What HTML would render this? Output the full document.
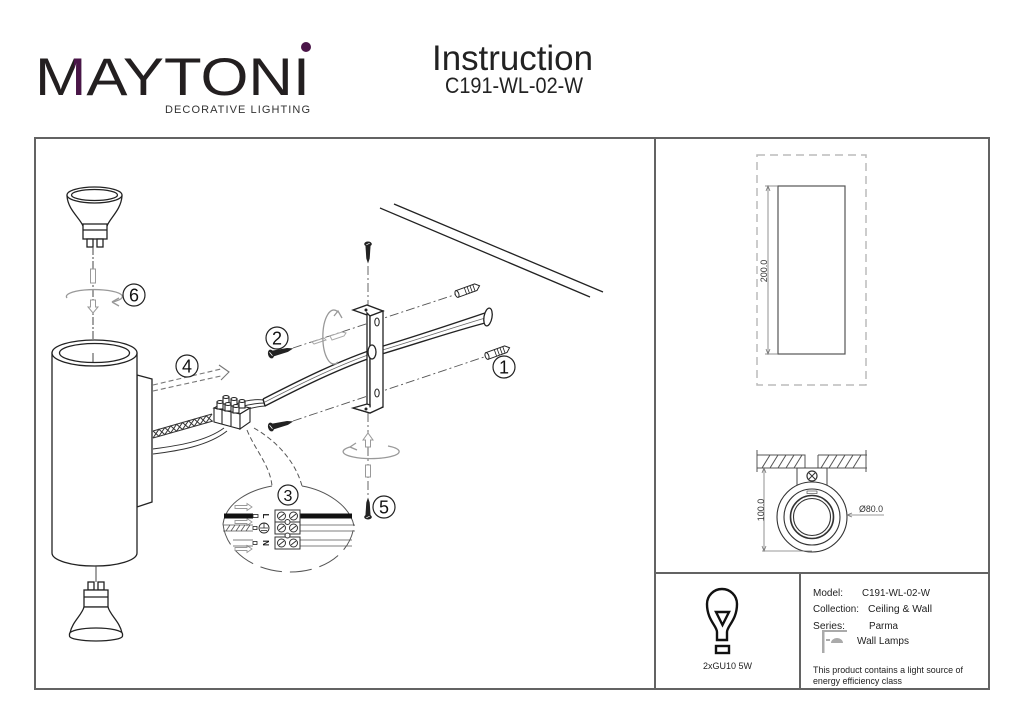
<!DOCTYPE html>
<html><head><meta charset="utf-8">
<style>
html,body{margin:0;padding:0;background:#fff;}
svg{display:block;}
text{font-family:"Liberation Sans",Arial,sans-serif;}
</style></head>
<body>
<svg width="1024" height="724" viewBox="0 0 1024 724" xmlns="http://www.w3.org/2000/svg">
<defs>
  <g id="scr"><ellipse cx="0" cy="0" rx="3" ry="4.5" fill="#222"/><path d="M2,-3 L17,-2 L23,0 L17,2 L2,3 Z" fill="#222"/><line x1="-1" y1="-2" x2="1" y2="2" stroke="#fff" stroke-width="0.8"/></g>
  <g id="anc"><path d="M0,-3.5 L20,-3.5 L24,0 L20,3.5 L0,3.5 Z" fill="#fff" stroke="#222" stroke-width="1"/><ellipse cx="0" cy="0" rx="1.8" ry="3.5" fill="#fff" stroke="#222" stroke-width="1"/><path d="M9,-3.5 L9,3.5 M12,-3.5 L12,3.5 M15,-3.5 L15,3.5 M18,-3.5 L18,3.5" stroke="#222" stroke-width="0.8"/></g>
  <clipPath id="mclip"><rect x="74" y="40" width="9" height="70"/></clipPath>
</defs>
<rect width="1024" height="724" fill="#fff"/>

<!-- LOGO -->
<text x="35" y="95" font-size="53" fill="#231f20" textLength="275" lengthAdjust="spacingAndGlyphs">MAYTONI</text>
<text x="35" y="95" font-size="53" fill="#4a1548" textLength="275" lengthAdjust="spacingAndGlyphs" clip-path="url(#mclip)">MAYTONI</text>
<circle cx="306" cy="47" r="5" fill="#4a1548"/>
<text x="165" y="113" font-size="11" fill="#333" textLength="145" lengthAdjust="spacing">DECORATIVE LIGHTING</text>

<text x="432" y="70" font-size="35" fill="#222" textLength="161" lengthAdjust="spacingAndGlyphs">Instruction</text>
<text x="445" y="93" font-size="22" fill="#222" textLength="138" lengthAdjust="spacingAndGlyphs">C191-WL-02-W</text>

<!-- FRAME -->
<g stroke="#636363" stroke-width="2" fill="none">
  <rect x="35" y="138" width="954" height="551"/>
  <line x1="655" y1="138" x2="655" y2="689"/>
  <line x1="655" y1="573" x2="989" y2="573"/>
  <line x1="800" y1="573" x2="800" y2="689"/>
</g>

<!-- WALL LINES -->
<g stroke="#222" stroke-width="1.3">
  <line x1="380" y1="208" x2="590" y2="297"/>
  <line x1="394" y1="204" x2="603" y2="292"/>
</g>

<!-- TOP BULB -->
<g stroke="#222" stroke-width="1.3" fill="#fff">
  <path d="M67,196 C68,210 80,218 83,226 L107,226 C110,218 121,210 122,196 Z"/>
  <ellipse cx="94.5" cy="195" rx="27.5" ry="8"/>
  <ellipse cx="94.5" cy="195" rx="23" ry="5.5"/>
  <rect x="83" y="224" width="24" height="15"/>
  <line x1="83" y1="230" x2="107" y2="230"/>
  <rect x="87" y="239" width="6" height="8"/>
  <rect x="97" y="239" width="6" height="8"/>
</g>
<line x1="93" y1="247" x2="93" y2="364" stroke="#444" stroke-width="1" stroke-dasharray="8 2 2 2"/>
<rect x="90.5" y="269" width="5" height="14" fill="#fff" stroke="#999"/>
<path d="M67,298 A28,7 0 1,1 112,302" fill="none" stroke="#999" stroke-width="1.3"/>
<path d="M112,302 L119,298 M112,302 L119,306" stroke="#999" stroke-width="1.3"/>
<path d="M90.5,300 L90.5,307 L88,307 L93,313 L98,307 L95.5,307 L95.5,300 Z" fill="#fff" stroke="#999"/>
<circle cx="134" cy="295" r="11" fill="#fff" stroke="#222" stroke-width="1.2"/>
<text x="134" y="301.5" font-size="18" text-anchor="middle" fill="#111">6</text>

<!-- WALL BOX behind lamp -->
<polygon points="137,375 152,379 152,502 137,507" fill="#fff" stroke="#222" stroke-width="1.3"/>

<!-- CYLINDER -->
<g stroke="#222" stroke-width="1.3" fill="#fff">
  <path d="M52,353 L52,553 A42.5,13 0 0,0 137,553 L137,353 Z"/>
  <ellipse cx="94.5" cy="353" rx="42.5" ry="13"/>
  <ellipse cx="94.5" cy="353" rx="35" ry="9.5"/>
</g>
<line x1="93" y1="353" x2="93" y2="362" stroke="#444" stroke-width="1"/>

<!-- BOTTOM BULB -->
<line x1="96" y1="566" x2="96" y2="582" stroke="#444" stroke-width="1"/>
<g stroke="#222" stroke-width="1.3" fill="#fff">
  <rect x="88" y="582" width="6" height="8"/>
  <rect x="98" y="582" width="6" height="8"/>
  <rect x="84" y="590" width="24" height="17"/>
  <line x1="84" y1="597" x2="108" y2="597"/>
  <path d="M84,607 C82,615 72,622 70,633 L122,633 C120,622 110,615 108,607 Z"/>
  <ellipse cx="96" cy="634" rx="26.5" ry="6"/>
  <path d="M69.5,634 L69.5,636 A26.5,5 0 0,0 122.5,636 L122.5,634"/>
</g>

<!-- ARROW 4 -->
<g stroke="#777" stroke-width="1.1" fill="none" stroke-dasharray="5 3">
  <line x1="153" y1="385" x2="221" y2="369"/>
  <line x1="153" y1="391" x2="221" y2="376"/>
</g>
<path d="M219,365 L229,372 L221,380" fill="none" stroke="#777" stroke-width="1.1"/>
<circle cx="187" cy="366" r="11" fill="#fff" stroke="#222" stroke-width="1.2"/>
<text x="187" y="372.5" font-size="18" text-anchor="middle" fill="#111">4</text>

<!-- CABLE -->
<g stroke="#333" stroke-width="1" fill="none">
  <path d="M153,431 L212,414"/>
  <path d="M153,438 L213,421"/>
  <path d="M153,431 L158.9,436.3 L164.8,427.6 L170.7,432.9 L176.6,424.2 L182.5,429.5 L188.4,420.8 L194.3,426.1 L200.2,417.4 L206.1,422.7 L212,414"/>
  <path d="M153,438 L158.9,429.3 L164.8,434.6 L170.7,425.9 L176.6,431.2 L182.5,422.5 L188.4,427.8 L194.3,419.1 L200.2,424.4 L206.1,415.7 L212,421"/>
  <path d="M153,449 C175,446 205,442 224,428"/>
  <path d="M153,454 C178,451 208,446 227,431"/>
  <path d="M236,404 C246,400 255,399 264,400"/>
  <path d="M240,407 C250,404 257,403 265,403"/>
  <path d="M244,410 C252,408 259,406 266,406"/>
</g>

<!-- TUBE -->
<g stroke="#222" stroke-width="1.4" fill="none">
  <path d="M263,399 C300,380 340,360 380,347 C420,335 455,323 485,313"/>
  <path d="M265,406 C302,387 342,367 382,354 C422,342 457,330 489,322"/>
  <line x1="263" y1="399" x2="265" y2="406"/>
</g>
<path d="M264,402.5 C301,383.5 341,363.5 381,350.5 C421,338.5 456,326.5 487,317.5" stroke="#666" stroke-width="0.8" fill="none"/>
<ellipse cx="488" cy="317" rx="4" ry="9" transform="rotate(10 488 317)" fill="#fff" stroke="#222" stroke-width="1.3"/>

<!-- CONNECTOR BLOCK -->
<g stroke="#222" stroke-width="1.1" fill="#fff">
  <polygon points="214,408 240,414 250,408 225,402"/>
  <polygon points="214,408 240,414 240,429 214,422"/>
  <polygon points="240,414 250,408 250,422 240,429"/>
  <rect x="223" y="397" width="6" height="7"/><ellipse cx="226" cy="397" rx="3" ry="1.5"/>
  <rect x="231" y="399" width="6" height="7"/><ellipse cx="234" cy="399" rx="3" ry="1.5"/>
  <rect x="239" y="401" width="6" height="7"/><ellipse cx="242" cy="401" rx="3" ry="1.5"/>
  <rect x="217" y="402" width="6" height="7"/><ellipse cx="220" cy="402" rx="3" ry="1.5"/>
  <rect x="225" y="404" width="6" height="7"/><ellipse cx="228" cy="404" rx="3" ry="1.5"/>
  <rect x="233" y="406" width="6" height="7"/><ellipse cx="236" cy="406" rx="3" ry="1.5"/>
  <line x1="222" y1="410" x2="222" y2="424"/>
  <line x1="231" y1="412" x2="231" y2="426"/>
</g>

<!-- DASH-DOT LINES -->
<g stroke="#555" stroke-width="0.9" fill="none" stroke-dasharray="9 3 2 3">
  <line x1="293" y1="348" x2="457" y2="294"/>
  <line x1="293" y1="421" x2="487" y2="356"/>
  <line x1="368" y1="266" x2="368" y2="306"/>
  <line x1="368" y1="413" x2="368" y2="497"/>
</g>

<!-- BRACKET -->
<g stroke="#222" stroke-width="1.3" fill="#fff">
  <polygon points="353,310 367,305 383,311 370,316"/>
  <polygon points="367,313 370,316 370,412 367,409"/>
  <polygon points="370,316 383,311 383,407 370,412"/>
  <polygon points="353,408 367,404 370,405 370,412 383,407 370,413"/>
  <path d="M353,408 L370,413 L383,407"/>
</g>
<ellipse cx="372" cy="352" rx="4" ry="7" fill="#fff" stroke="#222" stroke-width="1.3"/>
<ellipse cx="377" cy="322" rx="2.2" ry="4" fill="#fff" stroke="#222"/>
<ellipse cx="377" cy="393" rx="2.2" ry="4" fill="#fff" stroke="#222"/>
<circle cx="366" cy="310" r="1.5" fill="#222"/>
<circle cx="366" cy="409" r="1.5" fill="#222"/>

<!-- SCREWS & ANCHORS -->
<use href="#scr" transform="translate(271,354) rotate(-14)"/>
<use href="#scr" transform="translate(271,427) rotate(-14)"/>
<use href="#scr" transform="translate(368,244) rotate(90) scale(0.85)"/>
<use href="#scr" transform="translate(368,517) rotate(-90) scale(0.85)"/>
<use href="#anc" transform="translate(457,294) rotate(-20)"/>
<use href="#anc" transform="translate(487,356) rotate(-20)"/>

<!-- ghost dowels / rotation 2 -->
<g stroke="#aaa" stroke-width="1" fill="#fff">
  <path d="M312,342 L324,338 L326,340 L314,344 Z"/>
  <path d="M330,336 L342,332 L346,333 L344,336 L332,340 Z"/>
</g>
<path d="M338,362 A11,27 0 1,1 338,312" fill="none" stroke="#999" stroke-width="1.3"/>
<path d="M334,316 L338,311 L342,318" fill="none" stroke="#999" stroke-width="1.3"/>
<circle cx="277" cy="338" r="11" fill="#fff" stroke="#222" stroke-width="1.2"/>
<text x="277" y="344.5" font-size="18" text-anchor="middle" fill="#111">2</text>
<circle cx="504" cy="367" r="11" fill="#fff" stroke="#222" stroke-width="1.2"/>
<text x="504" y="373.5" font-size="18" text-anchor="middle" fill="#111">1</text>

<!-- rotation 5 -->
<path d="M350,447 A28,7 0 1,0 388,446" fill="none" stroke="#999" stroke-width="1.3"/>
<path d="M350,447 L356,443 M350,447 L357,450" stroke="#999" stroke-width="1.3"/>
<path d="M365.5,447 L365.5,440 L363,440 L368,433 L373,440 L370.5,440 L370.5,447 Z" fill="#fff" stroke="#999"/>
<rect x="365.5" y="465" width="5" height="12" fill="#fff" stroke="#999"/>
<circle cx="384" cy="507" r="11" fill="#fff" stroke="#222" stroke-width="1.2"/>
<text x="384" y="513.5" font-size="18" text-anchor="middle" fill="#111">5</text>

<!-- DETAIL BUBBLE 3 -->
<g stroke="#555" stroke-width="1" fill="none" stroke-dasharray="5 3">
  <path d="M247,430 C255,450 270,465 272,486"/>
  <path d="M254,428 C275,440 295,460 302,486"/>
  <path d="M223,524 C226,552 255,572 290,572 C322,572 350,555 354,526" stroke-dasharray="22 8"/>
</g>
<g stroke="#555" stroke-width="1" fill="none">
  <path d="M272,486 C250,490 226,502 223,524"/>
  <path d="M302,486 C325,490 350,505 354,526"/>
</g>
<circle cx="288" cy="495" r="10" fill="#fff" stroke="#222" stroke-width="1.2"/>
<text x="288" y="501" font-size="16" text-anchor="middle" fill="#111">3</text>
<!-- grey arrows -->
<g fill="#fff" stroke="#999" stroke-width="0.9">
  <path d="M235,505.5 L247,505.5 L247,503.5 L252,507 L247,510.5 L247,508.5 L235,508.5 Z"/>
  <path d="M235,520.5 L247,520.5 L247,518.5 L252,522 L247,525.5 L247,523.5 L235,523.5 Z"/>
  <path d="M235,547.5 L247,547.5 L247,545.5 L252,549 L247,552.5 L247,550.5 L235,550.5 Z"/>
</g>
<!-- L row -->
<rect x="224" y="513.5" width="29" height="5" fill="#111"/>
<rect x="253" y="514.5" width="5" height="3" fill="#fff" stroke="#222" stroke-width="0.8"/>
<text x="0" y="0" font-size="8" font-weight="bold" fill="#111" transform="translate(263,516) rotate(90)" text-anchor="middle">L</text>
<rect x="300" y="513.5" width="52" height="5" fill="#111"/>
<!-- earth row -->
<g stroke="#555" stroke-width="0.8" fill="none">
  <line x1="223" y1="525" x2="253" y2="525"/>
  <line x1="223" y1="531" x2="253" y2="531"/>
  <path d="M226,531 L230,525 M231,531 L235,525 M236,531 L240,525 M241,531 L245,525 M246,531 L250,525"/>
  <line x1="300" y1="525" x2="355" y2="525"/>
  <line x1="300" y1="531" x2="355" y2="531"/>
  <line x1="233" y1="540" x2="253" y2="540"/>
  <line x1="233" y1="546" x2="253" y2="546"/>
  <line x1="300" y1="540" x2="352" y2="540"/>
  <line x1="300" y1="546" x2="352" y2="546"/>
</g>
<rect x="253" y="526.5" width="4" height="3" fill="#fff" stroke="#222" stroke-width="0.8"/>
<rect x="253" y="541.5" width="4" height="3" fill="#fff" stroke="#222" stroke-width="0.8"/>
<circle cx="264" cy="528" r="5" fill="#fff" stroke="#222" stroke-width="0.9"/>
<path d="M264,523 L264,528 M260,528 L268,528 M261,530.5 L267,530.5" stroke="#222" stroke-width="0.8"/>
<text x="0" y="0" font-size="8" font-weight="bold" fill="#111" transform="translate(263,543) rotate(90)" text-anchor="middle">N</text>
<!-- terminal -->
<g stroke="#333" stroke-width="1" fill="#fff">
  <rect x="275" y="510" width="25" height="12"/>
  <rect x="275" y="522" width="25" height="12"/>
  <rect x="275" y="537" width="25" height="12"/>
  <circle cx="281.5" cy="516" r="4"/><circle cx="293.5" cy="516" r="4"/>
  <circle cx="281.5" cy="528" r="4"/><circle cx="293.5" cy="528" r="4"/>
  <circle cx="281.5" cy="543" r="4"/><circle cx="293.5" cy="543" r="4"/>
  <circle cx="287.5" cy="522" r="2.5"/><circle cx="287.5" cy="535.5" r="2.5"/>
  <path d="M279,518 L284,514 M291,518 L296,514 M279,530 L284,526 M291,530 L296,526 M279,545 L284,541 M291,545 L296,541"/>
</g>

<!-- RIGHT TOP DRAWING -->
<rect x="757" y="155" width="109" height="230" fill="none" stroke="#bbb" stroke-width="1.5" stroke-dasharray="8 5"/>
<rect x="778" y="186" width="67" height="168" fill="#fff" stroke="#555" stroke-width="1.2"/>
<g stroke="#777" stroke-width="0.8">
  <line x1="768" y1="186" x2="768" y2="354"/>
  <line x1="765" y1="186" x2="778" y2="186"/>
  <line x1="765" y1="354" x2="778" y2="354"/>
  <path d="M766,191 L768,186 L770,191 M766,349 L768,354 L770,349" fill="none"/>
</g>
<text x="0" y="0" font-size="9" fill="#333" text-anchor="middle" transform="translate(767,271) rotate(-90)">200.0</text>

<!-- RIGHT BOTTOM DRAWING -->
<g stroke="#555" stroke-width="1" fill="none">
  <path d="M757,455 L805,455 L805,468 L757,468 M818,455 L867,455 M818,468 L867,468 M818,455 L818,468"/>
  <line x1="757" y1="450" x2="757" y2="472"/>
  <line x1="866" y1="450" x2="866" y2="472"/>
  <path d="M762,468 L770,455 M770,468 L778,455 M778,468 L786,455 M786,468 L794,455 M794,468 L802,455 M821,468 L829,455 M829,468 L837,455 M837,468 L845,455 M845,468 L853,455 M853,468 L861,455"/>
</g>
<rect x="797" y="468" width="30" height="19" fill="#fff" stroke="#444" stroke-width="1"/>
<circle cx="812" cy="476" r="5" fill="#fff" stroke="#333" stroke-width="1.2"/>
<path d="M809,473 L815,479 M815,473 L809,479" stroke="#333" stroke-width="1"/>
<g fill="none" stroke="#333" stroke-width="1.1">
  <circle cx="812" cy="517" r="35" fill="#fff"/>
  <circle cx="812" cy="517" r="28"/>
  <circle cx="812" cy="517" r="21.5" stroke-width="1.6"/>
  <circle cx="812" cy="517" r="18.5"/>
</g>
<rect x="807" y="491" width="10" height="2.5" fill="#fff" stroke="#555" stroke-width="0.7"/>
<g stroke="#777" stroke-width="0.8" fill="none">
  <line x1="764" y1="468" x2="764" y2="551"/>
  <line x1="762" y1="551" x2="812" y2="551"/>
  <path d="M762,473 L764,468 L766,473 M762,546 L764,551 L766,546"/>
  <line x1="847" y1="515" x2="884" y2="515"/>
  <path d="M852,513 L847,515 L852,517"/>
</g>
<text x="0" y="0" font-size="9" fill="#333" text-anchor="middle" transform="translate(764,510) rotate(-90)">100.0</text>
<text x="859" y="512" font-size="9" fill="#333" textLength="24" lengthAdjust="spacingAndGlyphs">Ø80.0</text>

<!-- INFO: BULB -->
<g fill="none" stroke="#111" stroke-width="2.4">
  <path d="M717,640 L717,632 C717,626 707,620 707,604 A15,15 0 0,1 737,604 C737,620 727,626 727,632 L727,640 Z"/>
  <path d="M716,612 L729,612 L722.5,625 Z"/>
  <rect x="716" y="646" width="13" height="7"/>
</g>
<text x="703" y="669" font-size="9.5" fill="#222" textLength="49" lengthAdjust="spacingAndGlyphs">2xGU10 5W</text>

<!-- INFO TEXT -->
<g font-size="10" fill="#222">
  <text x="813" y="596" textLength="30" lengthAdjust="spacingAndGlyphs">Model:</text>
  <text x="862" y="596" textLength="68" lengthAdjust="spacingAndGlyphs">C191-WL-02-W</text>
  <text x="813" y="612" textLength="46" lengthAdjust="spacingAndGlyphs">Collection:</text>
  <text x="868" y="612" textLength="64" lengthAdjust="spacingAndGlyphs">Ceiling &amp; Wall</text>
  <text x="813" y="629" textLength="32" lengthAdjust="spacingAndGlyphs">Series:</text>
  <text x="869" y="629" textLength="29" lengthAdjust="spacingAndGlyphs">Parma</text>
  <text x="857" y="644" textLength="52" lengthAdjust="spacingAndGlyphs">Wall Lamps</text>
  <text x="813" y="673" font-size="9.5" textLength="150" lengthAdjust="spacingAndGlyphs">This product contains a light source of</text>
  <text x="813" y="684" font-size="9.5" textLength="89" lengthAdjust="spacingAndGlyphs">energy efficiency class</text>
</g>
<!-- wall lamp icon -->
<g fill="#aaa">
  <rect x="822" y="630" width="2.5" height="23"/>
  <rect x="822" y="630" width="25" height="2"/>
  <rect x="826" y="639" width="4" height="2"/>
  <path d="M831,643 A6,5 0 0,1 843,643 Z"/>
</g>
</svg>
</body></html>
